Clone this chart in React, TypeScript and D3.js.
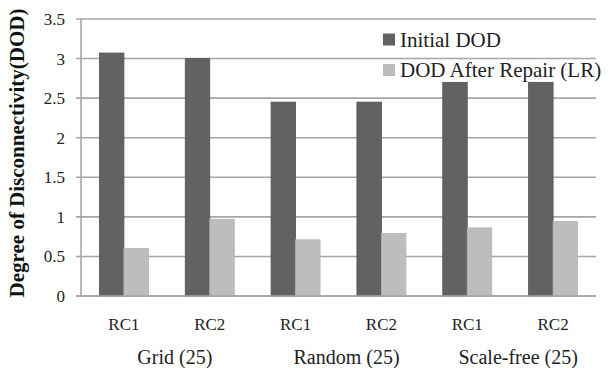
import React from "react";
import * as d3 from "d3";

const categories = ["RC1", "RC2", "RC1", "RC2", "RC1", "RC2"];
const groupLabels = ["Grid (25)", "Random (25)", "Scale-free (25)"];
const seriesNames = ["Initial DOD", "DOD After Repair (LR)"];
const initialDOD = [3.07, 3.0, 2.45, 2.45, 2.7, 2.7];
const afterRepair = [0.6, 0.97, 0.71, 0.79, 0.86, 0.94];
const yTicks = [0, 0.5, 1, 1.5, 2, 2.5, 3, 3.5];
const colors = ["#626262", "#bdbdbd"];

const W = 613;
const H = 368;
const m = { left: 81, right: 17, top: 19, bottom: 72 };
const FONT = "'Times New Roman', 'Liberation Serif', Times, serif";

export default function App() {
  const x = d3
    .scaleBand<number>()
    .domain(d3.range(categories.length))
    .range([m.left, W - m.right])
    .paddingInner(0.429)
    .paddingOuter(0.2145);
  const inner = d3.scaleBand<number>().domain([0, 1]).range([0, x.bandwidth()]);
  const y = d3.scaleLinear().domain([0, 3.5]).range([H - m.bottom, m.top]);
  const series = [initialDOD, afterRepair];
  const fmt = (v: number) => (v === 0 ? "0" : String(v));

  return (
    <svg
      width={W}
      height={H}
      style={{ position: "absolute", left: 0, top: 0, background: "#fff", fontFamily: FONT }}
    >
      {yTicks.map((t) => (
        <g key={t}>
          <line
            x1={m.left - 5}
            x2={W - m.right}
            y1={y(t)}
            y2={y(t)}
            stroke="#a6a6a6"
            strokeWidth={1.6}
          />
          <text x={65} y={y(t)} dy="0.35em" textAnchor="end" fontSize={17} fill="#222">
            {fmt(t)}
          </text>
        </g>
      ))}
      <line x1={m.left} x2={m.left} y1={m.top} y2={y(0)} stroke="#a6a6a6" strokeWidth={1.6} />
      {series.map((vals, si) =>
        vals.map((v, i) => (
          <rect
            key={`${si}-${i}`}
            x={(x(i) as number) + (inner(si) as number)}
            y={y(v)}
            width={inner.bandwidth()}
            height={y(0) - y(v)}
            fill={colors[si]}
            stroke={si === 0 ? "#555" : "#b3b3b3"}
            strokeWidth={0.8}
          />
        ))
      )}
      <line x1={m.left - 5} x2={W - m.right} y1={y(0)} y2={y(0)} stroke="#a6a6a6" strokeWidth={1.6} />
      {categories.map((c, i) => (
        <text
          key={i}
          x={(x(i) as number) + x.bandwidth() / 2}
          y={330}
          textAnchor="middle"
          fontSize={17}
          fill="#222"
        >
          {c}
        </text>
      ))}
      {groupLabels.map((g, gi) => {
        const cx =
          ((x(gi * 2) as number) + (x(gi * 2 + 1) as number) + x.bandwidth()) / 2 + 8;
        return (
          <text key={g} x={cx} y={364} textAnchor="middle" fontSize={20} fill="#222">
            {g}
          </text>
        );
      })}
      <text
        transform={`translate(24, ${153}) rotate(-90)`}
        textAnchor="middle"
        fontSize={21}
        fontWeight="bold"
        fill="#111"
      >
        Degree of Disconnectivity(DOD)
      </text>
      {seriesNames.map((s, si) => (
        <g key={s}>
          <rect x={383} y={33.5 + si * 30.5} width={12} height={12} fill={colors[si]} />
          <text x={400} y={46.5 + si * 30.5} fontSize={21} fill="#222">
            {s}
          </text>
        </g>
      ))}
    </svg>
  );
}
